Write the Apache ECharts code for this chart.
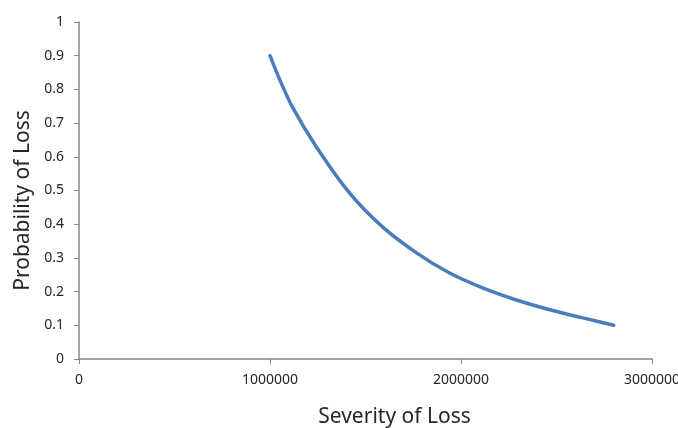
<!DOCTYPE html>
<html>
<head>
<meta charset="utf-8">
<script src="https://cdn.jsdelivr.net/npm/echarts@6/dist/echarts.min.js"></script>
<style>
html,body{margin:0;padding:0;background:#fff;}
#chart{width:678px;height:428px;}
</style>
</head>
<body>
<div id="chart"></div>
<script>
var severity = [1000000, 1047000, 1117000, 1243000, 1416000, 1589000, 1767000, 1940000, 2113000, 2290000, 2465000, 2637000, 2800000];
var probability = [0.9, 0.834, 0.748, 0.629, 0.493, 0.392, 0.315, 0.255, 0.211, 0.175, 0.146, 0.122, 0.1];
var xTitle = 'Severity of Loss';
var yTitle = 'Probability of Loss';

var data = severity.map(function (s, i) { return [s, probability[i]]; });
var font = '"Noto Sans", "Open Sans", sans-serif';
var chart = echarts.init(document.getElementById('chart'), null, {renderer: 'canvas'});
chart.setOption({
  animation: false,
  backgroundColor: '#fff',
  grid: {left: 79, right: 26, top: 22, bottom: 69, containLabel: false, outerBoundsMode: 'none'},
  xAxis: {
    type: 'value', min: 0, max: 3000000, interval: 1000000,
    name: xTitle, nameLocation: 'middle', nameGap: 48,
    nameTextStyle: {fontFamily: font, fontSize: 21, color: '#262626', padding: [0, 0, 0, 58]},
    axisLine: {show: true, lineStyle: {color: '#868686', width: 1.5}},
    axisTick: {show: true, length: 5, lineStyle: {color: '#868686'}},
    axisLabel: {fontFamily: font, fontSize: 14, color: '#262626', margin: 14,
      formatter: function (v) { return String(v); }},
    splitLine: {show: false}
  },
  yAxis: {
    type: 'value', min: 0, max: 1, interval: 0.1,
    name: yTitle, nameLocation: 'middle', nameGap: 42,
    nameTextStyle: {fontFamily: font, fontSize: 21, color: '#262626', padding: [0, 20, 0, 0]},
    axisLine: {show: true, lineStyle: {color: '#868686', width: 1.5}},
    axisTick: {show: true, length: 5, lineStyle: {color: '#868686'}},
    axisLabel: {fontFamily: font, fontSize: 14, color: '#262626', margin: 15,
      formatter: function (v) { return String(Math.round(v * 10) / 10); }},
    splitLine: {show: false}
  },
  series: [{
    type: 'line', data: data, smooth: 0.25, showSymbol: false, symbol: 'none',
    lineStyle: {color: '#4A7EBB', width: 3.5, cap: 'round'}
  }]
});
</script>
</body>
</html>
